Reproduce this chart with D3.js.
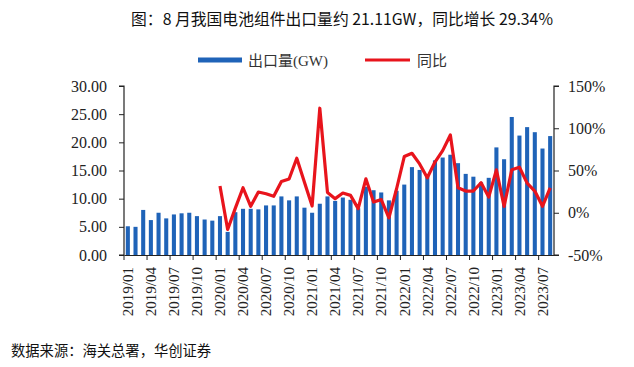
<!DOCTYPE html>
<html><head><meta charset="utf-8">
<script src="https://cdn.jsdelivr.net/npm/d3@7"></script>
<style>
html,body{margin:0;padding:0;background:#fff;}
svg{display:block;}
</style></head>
<body><svg id="c" width="634" height="367"></svg>
<script>
const months = ["2019/01","2019/02","2019/03","2019/04","2019/05","2019/06","2019/07","2019/08","2019/09","2019/10","2019/11","2019/12",
"2020/01","2020/02","2020/03","2020/04","2020/05","2020/06","2020/07","2020/08","2020/09","2020/10","2020/11","2020/12",
"2021/01","2021/02","2021/03","2021/04","2021/05","2021/06","2021/07","2021/08","2021/09","2021/10","2021/11","2021/12",
"2022/01","2022/02","2022/03","2022/04","2022/05","2022/06","2022/07","2022/08","2022/09","2022/10","2022/11","2022/12",
"2023/01","2023/02","2023/03","2023/04","2023/05","2023/06","2023/07","2023/08"];
const exportsGW = [5.1,5.0,8.0,6.2,7.5,6.5,7.2,7.4,7.5,6.9,6.3,6.1,
6.9,4.1,7.6,8.2,8.2,8.1,8.8,8.8,10.4,9.7,10.4,8.4,
7.5,9.1,10.4,9.6,10.2,9.8,8.3,12.1,11.5,11.1,9.7,11.4,
12.5,15.6,15.1,14.0,16.8,17.3,17.8,16.3,14.4,13.9,12.9,13.7,
19.1,17.0,24.5,21.2,22.7,21.8,18.9,21.11];
const yoyPct = [null,null,null,null,null,null,null,null,null,null,null,null,
31.6,-19.8,5.5,29.6,7.6,24.5,22.5,19.4,37,40,64.5,36,
8,123.7,24,16.7,23.3,20.6,4.9,40.2,12.7,15.5,-6,28.4,
66.5,70.4,57.8,41.4,60,73.5,92,29.6,25.7,25.7,35.5,18.6,
50.8,7.6,50.8,53.9,35,25.7,7.6,29.34];
const leftTicks = [0,5,10,15,20,25,30];
const rightTicks = [-50,0,50,100,150];
const xTickLabels = months.filter((m,i)=>i%3===0);
const titleText = "图：8 月我国电池组件出口量约 21.11GW，同比增长 29.34%";
const sourceText = "数据来源：海关总署，华创证券";
const legendNames = ["出口量(GW)","同比"];

const svg = d3.select("#c");
svg.append("rect").attr("width",634).attr("height",367).attr("fill","#fff");
const L=124, R=554, T=86, B=255;
const serif = "'Liberation Serif','Times New Roman',serif";
const sans = "'Noto Sans CJK SC','Noto Sans',sans-serif";
const blue = "#1f63b8", red = "#e8141c";

const x = d3.scaleBand().domain(months).range([L,R]).paddingInner(0.47).paddingOuter(0.235);
const xb = d3.scaleBand().domain(months).range([L,R]);
const yL = d3.scaleLinear().domain([0,30]).range([B,T]);
const yR = d3.scaleLinear().domain([-50,150]).range([B,T]);

// bars
svg.append("g").selectAll("rect").data(exportsGW).join("rect")
  .attr("x",(d,i)=>x(months[i])).attr("width",x.bandwidth())
  .attr("y",d=>yL(d)).attr("height",d=>B-yL(d)).attr("fill",blue);

// line
const line = d3.line().defined(d=>d!=null)
  .x((d,i)=>xb(months[i])+xb.bandwidth()/2).y(d=>yR(d));
svg.append("path").datum(yoyPct).attr("d",line).attr("fill","none")
  .attr("stroke",red).attr("stroke-width",3.2).attr("stroke-linejoin","round");

// left axis
const gl = svg.append("g").attr("transform",`translate(${L},0)`)
  .call(d3.axisLeft(yL).tickValues(leftTicks).tickFormat(d3.format(".2f")).tickSize(5).tickPadding(12));
// right axis
const gr = svg.append("g").attr("transform",`translate(${R},0)`)
  .call(d3.axisRight(yR).tickValues(rightTicks).tickFormat(d=>d+"%").tickSize(5).tickPadding(9));
// bottom axis
const gb = svg.append("g").attr("transform",`translate(0,${B})`)
  .call(d3.axisBottom(xb).tickValues(xTickLabels).tickSize(0).tickPadding(0).tickFormat(d=>d));
gb.selectAll(".tick text").attr("transform","rotate(-90)").attr("text-anchor","end")
  .attr("x",-12).attr("y",0).attr("dy","0.35em");
gb.selectAll(".tick").each(function(d){
  d3.select(this).append("line").attr("x1",-xb.bandwidth()/2).attr("x2",-xb.bandwidth()/2)
    .attr("y1",0).attr("y2",5).attr("stroke","#222");
});
[gl,gr,gb].forEach(g=>{
  g.selectAll("path.domain").attr("stroke","#222").attr("stroke-width",1.2);
  g.selectAll(".tick line").attr("stroke","#222");
  g.selectAll("text").attr("font-family",serif).attr("fill","#222");
});
gl.selectAll("text").attr("font-size",16);
gr.selectAll("text").attr("font-size",16);
gb.selectAll("text").attr("font-size",15);
gl.select("path.domain").attr("d",`M-5,${T}H0V${B}H-5`);
gr.select("path.domain").attr("d",`M5,${T}H0V${B}H5`);

// title
svg.append("text").attr("x",342).attr("y",25).attr("text-anchor","middle")
  .attr("font-family",sans).attr("font-size",15.8).attr("fill","#111").text(titleText);

// legend
const lg = svg.append("g");
lg.append("rect").attr("x",198).attr("y",57.5).attr("width",44).attr("height",5).attr("fill",blue);
lg.append("text").attr("x",248).attr("y",65.5).attr("font-family",serif+",'Noto Sans CJK SC'")
  .attr("font-size",15).attr("fill","#333").text(legendNames[0]);
lg.append("line").attr("x1",365).attr("x2",410).attr("y1",60).attr("y2",60)
  .attr("stroke",red).attr("stroke-width",3.2);
lg.append("text").attr("x",417).attr("y",65.5).attr("font-family",serif+",'Noto Sans CJK SC'")
  .attr("font-size",15).attr("fill","#333").text(legendNames[1]);

// source
svg.append("text").attr("x",11).attr("y",356).attr("font-family",sans)
  .attr("font-size",14.3).attr("fill","#111").text(sourceText);
</script></body></html>
